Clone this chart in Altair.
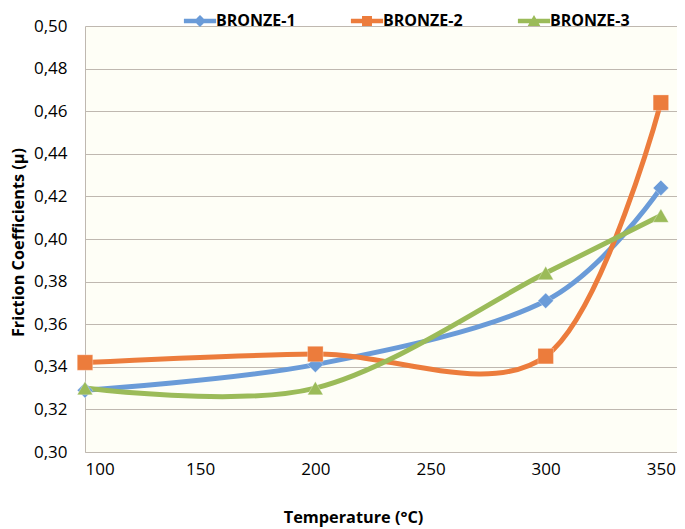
import altair as alt
import pandas as pd

# ---- data ----
temps = [100, 200, 300, 350]
bronze1 = [0.329, 0.341, 0.371, 0.424]
bronze2 = [0.342, 0.346, 0.345, 0.464]
bronze3 = [0.330, 0.330, 0.384, 0.411]
series_names = ["BRONZE-1", "BRONZE-2", "BRONZE-3"]
x_ticks = [100, 150, 200, 250, 300, 350]
y_ticks = [0.30, 0.32, 0.34, 0.36, 0.38, 0.40, 0.42, 0.44, 0.46, 0.48, 0.50]

# ---- styling ----
colors = ["#6A9BD8", "#EC7C3C", "#9BBB59"]
marker_shapes = ["diamond", "square", "triangle-up"]
# legend glyphs: a line segment with the series marker on it (unit = 7px)
legend_paths = [
    "M-2.3,-0.33H2.3V0.33H-2.3Z M0,-0.86L0.86,0L0,0.86L-0.86,0Z",
    "M-2.3,-0.33H2.3V0.33H-2.3Z M-0.71,-0.71H0.71V0.71H-0.71Z",
    "M-2.3,-0.33H2.3V0.33H-2.3Z M0,-0.86L0.9,0.72H-0.9Z",
]
FONT = "Open Sans"
GRID = "#BFB8B0"

rows = []
for name, vals in zip(series_names, [bronze1, bronze2, bronze3]):
    for t, v in zip(temps, vals):
        rows.append({"series": name, "temp": t, "mu": v})
df = pd.DataFrame(rows)

x = alt.X(
    "temp:Q",
    scale=alt.Scale(domain=[100, 357], nice=False, zero=False),
    axis=alt.Axis(
        values=x_ticks, format="d", title="Temperature (°C)", grid=False,
        ticks=False, labelPadding=9, titleX=268, titleY=65,
        titleBaseline="middle", titleAlign="center",
    ),
)
y = alt.Y(
    "mu:Q",
    scale=alt.Scale(domain=[0.30, 0.50], nice=False, zero=False),
    axis=alt.Axis(
        values=y_ticks,
        labelExpr="replace(format(datum.value, '.2f'), '.', ',')",
        title="Friction Coefficients (µ)", grid=True, ticks=False,
        labelPadding=18, titleX=-67, titleY=216, titleBaseline="middle",
        titleAlign="center",
    ),
)
# data-driven domains (sorted) so these hidden legends stay apart from the shown one
stroke_enc = alt.Stroke(
    "series:N", sort="ascending", scale=alt.Scale(range=colors), legend=None
)
fill_enc = alt.Fill(
    "series:N", sort="ascending", scale=alt.Scale(range=colors), legend=None
)

base = alt.Chart(df)

lines = base.mark_line(interpolate="cardinal", strokeWidth=5).encode(
    x=x, y=y, stroke=stroke_enc, detail="series:N"
)

point_layers = []
for name, shp in zip(series_names, marker_shapes):
    point_layers.append(
        base.transform_filter(alt.datum.series == name)
        .mark_point(shape=shp, filled=True, opacity=1, size=240,
                    stroke="#ffffff", strokeWidth=0.6, strokeOpacity=0.5)
        .encode(x=x, y=y, fill=fill_enc)
    )

leg = alt.Legend(
    orient="none", legendX=107, legendY=-13, direction="horizontal",
    columns=3, title=None, symbolSize=196, symbolOpacity=1,
    symbolStrokeWidth=0, labelFont=FONT, labelFontSize=16,
    labelFontWeight="bold", labelColor="#000000", columnPadding=54,
    labelOffset=8, padding=0,
)
legend_layer = base.mark_point(filled=True, opacity=0).encode(
    x=x, y=y,
    color=alt.Color("series:N", scale=alt.Scale(domain=series_names, range=colors), legend=leg),
    shape=alt.Shape("series:N", scale=alt.Scale(domain=series_names, range=legend_paths), legend=leg),
)

chart = (
    alt.layer(lines, *point_layers, legend_layer)
    .properties(
        width=592, height=426,
        autosize=alt.AutoSizeParams(type="none"),
        padding={"left": 77, "top": 18, "right": 0, "bottom": 75},
    )
    .configure_view(fill="#FEFEF6", stroke=None)
    .configure_axis(
        domainColor=GRID, gridColor=GRID, domainWidth=1, gridWidth=1,
        labelFont=FONT, labelFontSize=17, labelColor="#000000",
        titleFont=FONT, titleFontSize=16.3, titleFontWeight="bold",
        titleColor="#000000",
    )
)

chart.save("out.html", embed_options={"renderer": "svg", "actions": False})
